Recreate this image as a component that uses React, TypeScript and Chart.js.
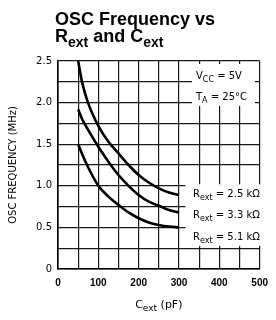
import React, { useEffect, useRef } from "react";
import { Chart, registerables } from "chart.js";

Chart.register(...registerables);

// Data
const capValues = [50, 60, 75, 100, 125, 150, 175, 200, 225, 250, 275, 300]; // Cext (pF)
const freqR25 = [2.5, 2.24, 1.99, 1.72, 1.53, 1.39, 1.25, 1.13, 1.04, 0.97, 0.92, 0.89];
const freqR33 = [1.92, 1.8, 1.67, 1.47, 1.29, 1.13, 1.0, 0.89, 0.81, 0.76, 0.71, 0.68];
const freqR51 = [1.5, 1.38, 1.22, 1.0, 0.87, 0.77, 0.68, 0.61, 0.56, 0.53, 0.51, 0.5];
const seriesLabels = ["2.5 kΩ", "3.3 kΩ", "5.1 kΩ"];
const xTickLabels = [0, 100, 200, 300, 400, 500];
const yTickLabels = [0, 0.5, 1.0, 1.5, 2.0, 2.5];

type Seg = { t: string; f: string; dy?: number };

function drawRich(ctx: CanvasRenderingContext2D, x: number, y: number, segs: Seg[], align: "left" | "center" = "left") {
  ctx.save();
  ctx.textBaseline = "alphabetic";
  ctx.textAlign = "left";
  let total = 0;
  for (const s of segs) {
    ctx.font = s.f;
    total += ctx.measureText(s.t).width;
  }
  let cx = align === "center" ? x - total / 2 : x;
  for (const s of segs) {
    ctx.font = s.f;
    ctx.fillText(s.t, cx, y + (s.dy || 0));
    cx += ctx.measureText(s.t).width;
  }
  ctx.restore();
}

const DV = '"DejaVu Sans", sans-serif';
const LS = '"Liberation Sans", Arial, sans-serif';

const decorPlugin = {
  id: "decor",
  beforeDatasetsDraw(chart: any) {
    const ctx = chart.ctx as CanvasRenderingContext2D;
    ctx.save();
    ctx.fillStyle = "#fff";
    ctx.fillRect(192, 64, 63, 42);
    ctx.fillRect(185.5, 184.3, 79.5, 61.5);
    ctx.restore();
  },
  afterDraw(chart: any) {
    const ctx = chart.ctx as CanvasRenderingContext2D;
    ctx.save();
    ctx.fillStyle = "#000";
    // Title
    drawRich(ctx, 55, 25, [{ t: "OSC Frequency vs", f: `bold 18px ${LS}` }]);
    drawRich(ctx, 55, 42, [
      { t: "R", f: `bold 18px ${LS}` },
      { t: "ext", f: `bold 14px ${LS}`, dy: 5 },
      { t: " and C", f: `bold 18px ${LS}` },
      { t: "ext", f: `bold 14px ${LS}`, dy: 5 },
    ]);
    // Conditions
    drawRich(ctx, 196, 79, [
      { t: "V", f: `10px ${DV}` },
      { t: "CC", f: `8px ${DV}`, dy: 3 },
      { t: " = 5V", f: `10px ${DV}` },
    ]);
    drawRich(ctx, 196, 100, [
      { t: "T", f: `10px ${DV}` },
      { t: "A", f: `8px ${DV}`, dy: 3 },
      { t: " = 25°C", f: `10px ${DV}` },
    ]);
    // Series labels
    const ys = [197, 218, 240];
    seriesLabels.forEach((lab, i) => {
      drawRich(ctx, 193, ys[i], [
        { t: "R", f: `10px ${DV}` },
        { t: "ext", f: `8px ${DV}`, dy: 3 },
        { t: " = " + lab, f: `10px ${DV}` },
      ]);
    });
    // X axis title
    const area = chart.chartArea;
    drawRich(ctx, (area.left + area.right) / 2, 308, [
      { t: "C", f: `11px ${DV}` },
      { t: "ext", f: `9px ${DV}`, dy: 3 },
      { t: " (pF)", f: `11px ${DV}` },
    ], "center");
    // Y axis title
    ctx.translate(13, (area.top + area.bottom) / 2 + 0);
    ctx.rotate(-Math.PI / 2);
    ctx.font = `10px ${DV}`;
    ctx.textAlign = "center";
    ctx.textBaseline = "middle";
    ctx.fillText("OSC FREQUENCY (MHz)", 0, 0);
    ctx.restore();
  },
};

export default function App() {
  const ref = useRef<HTMLCanvasElement | null>(null);
  useEffect(() => {
    if (!ref.current) return;
    const mk = (vals: number[]) => capValues.map((c, i) => ({ x: c, y: vals[i] }));
    const ds = [freqR25, freqR33, freqR51].map((v, i) => ({
      label: seriesLabels[i],
      data: mk(v),
      borderColor: "#000",
      borderWidth: 2.6,
      pointRadius: 0,
      showLine: true,
      fill: false,
      cubicInterpolationMode: "monotone" as const,
    }));
    const chart = new Chart(ref.current, {
      type: "scatter",
      data: { datasets: ds },
      options: {
        animation: false,
        responsive: false,
        layout: { padding: { top: 61, right: 9, left: 0, bottom: 0 } },
        plugins: { legend: { display: false }, tooltip: { enabled: false }, title: { display: false } },
        scales: {
          x: {
            type: "linear",
            min: 0,
            max: 500,
            ticks: {
              stepSize: 50,
              padding: 8,
              color: "#000",
              font: { family: LS, size: 10, weight: "bold" },
              maxRotation: 0,
              autoSkip: false,
              callback: (v: any) => (xTickLabels.includes(Number(v)) ? String(v) : ""),
            },
            grid: { color: "#1a1a1a", lineWidth: 1.2, drawTicks: false },
            border: { color: "#000", width: 1.6 },
            afterFit: (s: any) => {
              s.height = 51;
            },
          },
          y: {
            type: "linear",
            min: 0,
            max: 2.5,
            ticks: {
              stepSize: 0.25,
              padding: 6,
              color: "#000",
              font: { family: DV, size: 10 },
              autoSkip: false,
              callback: (v: any) => {
                const n = Number(v);
                const hit = yTickLabels.find((t) => Math.abs(t - n) < 1e-6);
                if (hit === undefined) return "";
                return hit === 0 ? "0" : hit.toFixed(1);
              },
            },
            grid: { color: "#1a1a1a", lineWidth: 1.2, drawTicks: false },
            border: { color: "#000", width: 1.6 },
            afterFit: (s: any) => {
              s.width = 58;
            },
          },
        },
      },
      plugins: [decorPlugin],
    } as any);
    return () => chart.destroy();
  }, []);
  return (
    <div style={{ position: "absolute", left: 0, top: 0, width: 276, height: 320, background: "#fff" }}>
      <canvas ref={ref} width={276} height={320} />
    </div>
  );
}
